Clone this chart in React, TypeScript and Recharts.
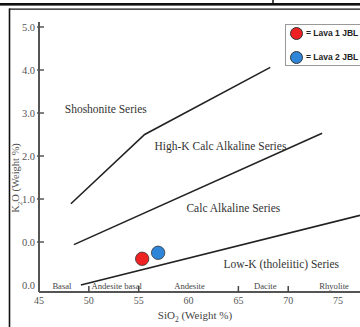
import {
  ComposedChart,
  Line,
  Scatter,
  XAxis,
  YAxis,
  ReferenceDot,
  Label,
  Legend,
} from "recharts";

// boundary lines of the SiO2 vs K2O diagram
const shoshoniteBoundary = [
  { x: 48.2, y: 0.89 },
  { x: 55.6, y: 2.5 },
  { x: 68.2, y: 4.06 },
];
const highKBoundary = [
  { x: 48.5, y: -0.06 },
  { x: 73.4, y: 2.53 },
];
const lowKBoundary = [
  { x: 49.2, y: -1.0 },
  { x: 77.2, y: 0.62 },
];

const lava1 = [{ x: 55.35, y: -0.39 }];
const lava2 = [{ x: 56.95, y: -0.25 }];

const samples = [
  { name: "= Lava 1 JBL", color: "#ee2222" },
  { name: "= Lava 2 JBL", color: "#2f86d8" },
];

const seriesLabels = [
  { x: 51.7, y: 3.1, text: "Shoshonite Series" },
  { x: 63.2, y: 2.24, text: "High-K Calc Alkaline Series" },
  { x: 64.5, y: 0.8, text: "Calc Alkaline Series" },
  { x: 69.3, y: -0.51, text: "Low-K (tholeiitic) Series" },
];

const rockLabels = [
  { x: 47.3, text: "Basal" },
  { x: 52.8, text: "Andesite basal" },
  { x: 60.1, text: "Andesite" },
  { x: 67.7, text: "Dacite" },
  { x: 74.6, text: "Rhyolite" },
];

const xTicks = [45, 50, 55, 60, 65, 70, 75];
const dividerTicks = [50, 55, 65, 70];
const yTicks = [-1, 0, 1, 2, 3, 4, 5];
const yTickLabels = ["0.0", "0.0", "1.0", "2.0", "3.0", "4.0", "5.0"];

const SERIF = "'Liberation Serif', 'Times New Roman', serif";
const PLOT_BOTTOM = 292;

function YTick(props: any) {
  const { y, payload } = props;
  const i = yTicks.indexOf(payload.value);
  return (
    <g>
      {payload.value !== -1 && (
        <line x1={37} x2={44} y1={y} y2={y} stroke="#555" strokeWidth={1.5} />
      )}
      <text
        x={35}
        y={y}
        dy={3.6}
        textAnchor="end"
        fontSize={10.5}
        fill="#555"
        fontFamily={SERIF}
      >
        {yTickLabels[i]}
      </text>
    </g>
  );
}

function XTick(props: any) {
  const { x, payload } = props;
  return (
    <g>
      {dividerTicks.includes(payload.value) && (
        <line x1={x} x2={x} y1={PLOT_BOTTOM} y2={PLOT_BOTTOM - 6} stroke="#444" strokeWidth={1.5} />
      )}
      <text
        x={x}
        y={PLOT_BOTTOM + 12}
        textAnchor="middle"
        fontSize={10}
        fill="#555"
        fontFamily={SERIF}
      >
        {payload.value}
      </text>
    </g>
  );
}

function Dot(color: string) {
  return (props: any) => (
    <circle cx={props.cx} cy={props.cy} r={6.7} fill={color} stroke="#333" strokeWidth={0.8} />
  );
}

function LegendBox() {
  return (
    <div
      style={{
        border: "1px solid #999",
        background: "#fff",
        width: 90,
        height: 42,
        padding: "0 0 0 4px",
        boxSizing: "border-box",
      }}
    >
      {samples.map((s) => (
        <div
          key={s.name}
          style={{ display: "flex", alignItems: "center", height: 16, marginBottom: 8 }}
        >
          <span
            style={{
              width: 13,
              height: 13,
              borderRadius: "50%",
              background: s.color,
              border: "0.8px solid #333",
              boxSizing: "border-box",
              marginRight: 3,
            }}
          />
          <span
            style={{
              fontFamily: "'Liberation Sans', Arial, sans-serif",
              fontWeight: "bold",
              fontSize: 8.5,
              color: "#222",
            }}
          >
            {s.name}
          </span>
        </div>
      ))}
    </div>
  );
}

export default function App() {
  return (
    <div
      style={{
        position: "absolute",
        left: 0,
        top: 0,
        width: 360,
        height: 327,
        overflow: "hidden",
        background: "#fff",
      }}
    >
      <ComposedChart
        width={360}
        height={327}
        margin={{ top: 22, right: 0, left: 0, bottom: 0 }}
      >
        <XAxis
          type="number"
          dataKey="x"
          domain={[45, 77.2]}
          ticks={xTicks}
          allowDataOverflow
          height={35}
          axisLine={{ stroke: "#555", strokeWidth: 2 }}
          tickLine={false}
          tick={<XTick />}
        >
          <Label
            content={() => (
              <text x={195} y={319} textAnchor="middle" fontSize={11} fill="#444" fontFamily={SERIF}>
                SiO
                <tspan fontSize={7.5} dy={3}>2</tspan>
                <tspan dy={-3}> (Weight %)</tspan>
              </text>
            )}
          />
        </XAxis>
        <YAxis
          type="number"
          dataKey="y"
          domain={[-1.162, 5.116]}
          ticks={yTicks}
          allowDataOverflow
          width={39}
          axisLine={{ stroke: "#555", strokeWidth: 2 }}
          tickLine={false}
          tick={<YTick />}
        >
          <Label
            content={() => (
              <text
                transform="translate(19,178) rotate(-90)"
                textAnchor="middle"
                fontSize={10.5}
                fill="#555"
                fontFamily={SERIF}
              >
                K
                <tspan fontSize={7} dy={3}>2</tspan>
                <tspan dy={-3}>O (Weight %)</tspan>
              </text>
            )}
          />
        </YAxis>
        <Line data={shoshoniteBoundary} dataKey="y" stroke="#222" strokeWidth={1.6} dot={false} isAnimationActive={false} />
        <Line data={highKBoundary} dataKey="y" stroke="#222" strokeWidth={1.6} dot={false} isAnimationActive={false} />
        <Line data={lowKBoundary} dataKey="y" stroke="#222" strokeWidth={1.6} dot={false} isAnimationActive={false} />
        <Scatter data={lava1} dataKey="y" shape={Dot(samples[0].color)} isAnimationActive={false} />
        <Scatter data={lava2} dataKey="y" shape={Dot(samples[1].color)} isAnimationActive={false} />
        {seriesLabels.map((l) => (
          <ReferenceDot
            key={l.text}
            x={l.x}
            y={l.y}
            r={0}
            stroke="none"
            label={{ value: l.text, position: "center", fontSize: 11.5, fill: "#333", fontFamily: SERIF }}
          />
        ))}
        {rockLabels.map((l) => (
          <ReferenceDot
            key={l.text}
            x={l.x}
            y={-1.03}
            r={0}
            stroke="none"
            label={{ value: l.text, position: "center", fontSize: 8.6, fill: "#444", fontFamily: SERIF }}
          />
        ))}
        <Legend
          layout="vertical"
          align="center"
          verticalAlign="middle"
          content={() => <LegendBox />}
          wrapperStyle={{ left: 285, top: 24, width: 90 }}
        />
      </ComposedChart>
      {/* scanned page frame */}
      <svg
        width={360}
        height={327}
        style={{ position: "absolute", left: 0, top: 0, pointerEvents: "none" }}
      >
        <rect x={0} y={3} width={360} height={2.6} fill="#111" />
        <line x1={9} x2={360} y1={9.2} y2={9.2} stroke="#111" strokeWidth={1.3} />
        <line x1={9.5} x2={9.5} y1={8.6} y2={327} stroke="#111" strokeWidth={1.6} />
        <line x1={273} x2={273} y1={0} y2={4} stroke="#111" strokeWidth={1.5} />
      </svg>
    </div>
  );
}
